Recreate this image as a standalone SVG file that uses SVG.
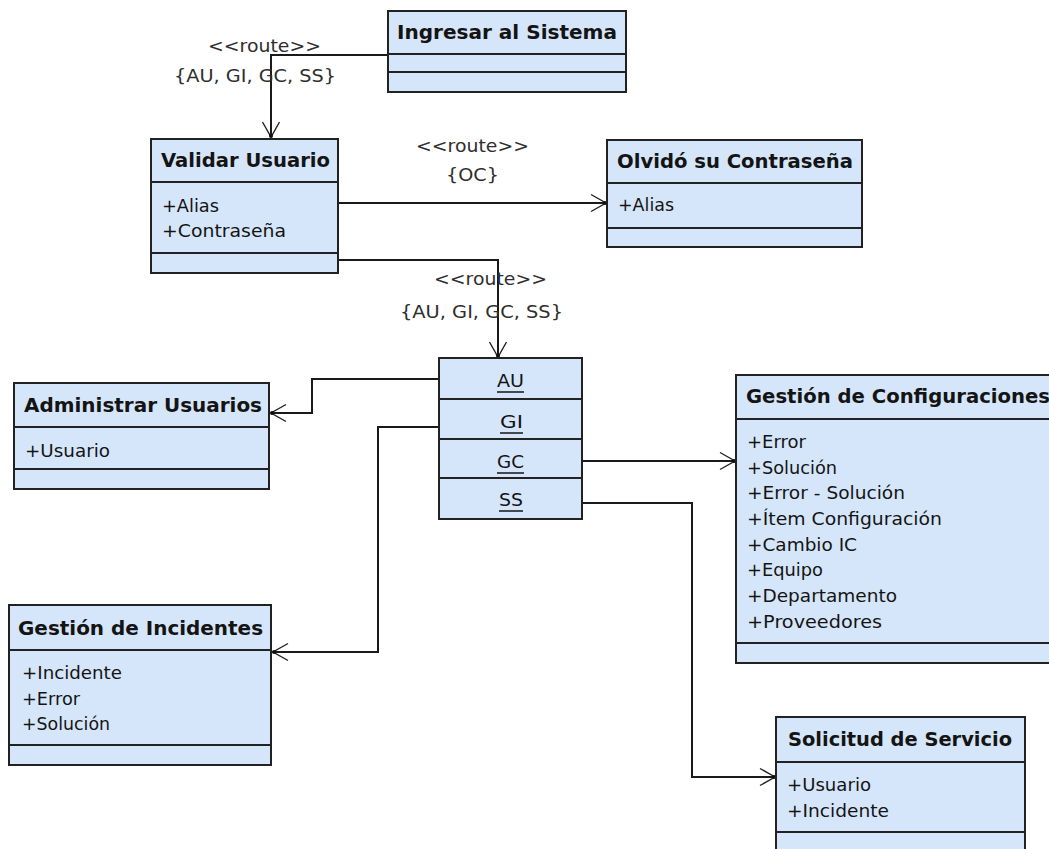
<svg xmlns="http://www.w3.org/2000/svg" width="1049" height="849" viewBox="0 0 1049 849">
  <style>
    .box { fill: #D6E6FA; stroke: #222; stroke-width: 2; }
    .sep { stroke: #222; stroke-width: 2; }
    .hdr { font-family: "DejaVu Sans", Verdana, sans-serif; font-weight: bold; font-size: 19px; fill: #141414; }
    .attr { font-family: "DejaVu Sans", Verdana, sans-serif; font-size: 18px; fill: #141414; }
    .lbl { font-family: "DejaVu Sans", Verdana, sans-serif; font-size: 18px; fill: #2e2e2e; }
    .ul { stroke: #141414; stroke-width: 1.5; }
    .conn { fill: none; stroke: #1a1a1a; stroke-width: 2; }
  </style>
  <defs>
    <marker id="openArrow" viewBox="-18 -10 21 20" refX="0" refY="0" markerWidth="21" markerHeight="20" orient="auto" markerUnits="userSpaceOnUse">
      <path d="M-15,-8.5 L0,0 L-15,8.5" fill="none" stroke="#222" stroke-width="1.4"/>
      <circle cx="-1" cy="0" r="2" fill="#111"/>
    </marker>
  </defs>

  <rect width="1049" height="849" fill="#ffffff"/>

  <!-- connectors -->
  <g id="connectors">
    <polyline class="conn" points="388,55 271,55 271,137" marker-end="url(#openArrow)"/>
    <polyline class="conn" points="338,203 606,203" marker-end="url(#openArrow)"/>
    <polyline class="conn" points="338,260 498,260 498,357" marker-end="url(#openArrow)"/>
    <polyline class="conn" points="439,379 312,379 312,413 271,413" marker-end="url(#openArrow)"/>
    <polyline class="conn" points="439,427 378,427 378,652 273,652" marker-end="url(#openArrow)"/>
    <polyline class="conn" points="582,461 735,461" marker-end="url(#openArrow)"/>
    <polyline class="conn" points="582,503 692,503 692,777 775,777" marker-end="url(#openArrow)"/>

    <text class="lbl" x="208" y="52" textLength="113" lengthAdjust="spacingAndGlyphs">&lt;&lt;route&gt;&gt;</text>
    <text class="lbl" x="174" y="82" textLength="162" lengthAdjust="spacingAndGlyphs">{AU, GI, GC, SS}</text>
    <text class="lbl" x="416" y="152" textLength="113" lengthAdjust="spacingAndGlyphs">&lt;&lt;route&gt;&gt;</text>
    <text class="lbl" x="446" y="181" textLength="53" lengthAdjust="spacingAndGlyphs">{OC}</text>
    <text class="lbl" x="434" y="285" textLength="113" lengthAdjust="spacingAndGlyphs">&lt;&lt;route&gt;&gt;</text>
    <text class="lbl" x="400" y="318" textLength="163" lengthAdjust="spacingAndGlyphs">{AU, GI, GC, SS}</text>
  </g>

  <!-- Ingresar al Sistema -->
  <g id="ingresar">
    <rect class="box" x="388" y="11" width="238" height="81"/>
    <line class="sep" x1="388" y1="54" x2="626" y2="54"/>
    <line class="sep" x1="388" y1="72" x2="626" y2="72"/>
    <text class="hdr" x="397" y="39" textLength="220" lengthAdjust="spacingAndGlyphs">Ingresar al Sistema</text>
  </g>

  <!-- Validar Usuario -->
  <g id="validar">
    <rect class="box" x="151" y="139" width="187" height="134"/>
    <line class="sep" x1="151" y1="182" x2="338" y2="182"/>
    <line class="sep" x1="151" y1="253" x2="338" y2="253"/>
    <text class="hdr" x="161" y="167" textLength="169" lengthAdjust="spacingAndGlyphs">Validar Usuario</text>
    <text class="attr" x="162" y="212" textLength="57" lengthAdjust="spacingAndGlyphs">+Alias</text>
    <text class="attr" x="162" y="237" textLength="124" lengthAdjust="spacingAndGlyphs">+Contraseña</text>
  </g>

  <!-- Olvidó su Contraseña -->
  <g id="olvido">
    <rect class="box" x="607" y="140" width="255" height="107"/>
    <line class="sep" x1="607" y1="183" x2="862" y2="183"/>
    <line class="sep" x1="607" y1="228" x2="862" y2="228"/>
    <text class="hdr" x="617" y="168" textLength="236" lengthAdjust="spacingAndGlyphs">Olvidó su Contraseña</text>
    <text class="attr" x="618" y="211" textLength="56" lengthAdjust="spacingAndGlyphs">+Alias</text>
  </g>

  <!-- route target with the four options -->
  <g id="opciones">
    <rect class="box" x="439" y="358" width="143" height="161"/>
    <line class="sep" x1="439" y1="399" x2="582" y2="399"/>
    <line class="sep" x1="439" y1="439" x2="582" y2="439"/>
    <line class="sep" x1="439" y1="478" x2="582" y2="478"/>
    <text class="attr" x="497" y="387" textLength="27" lengthAdjust="spacingAndGlyphs">AU</text>
    <line class="ul" x1="497" y1="392" x2="524" y2="392"/>
    <text class="attr" x="500" y="428" textLength="23" lengthAdjust="spacingAndGlyphs">GI</text>
    <line class="ul" x1="500" y1="433" x2="523" y2="433"/>
    <text class="attr" x="497" y="468" textLength="27" lengthAdjust="spacingAndGlyphs">GC</text>
    <line class="ul" x1="497" y1="473" x2="524" y2="473"/>
    <text class="attr" x="499" y="506" textLength="24" lengthAdjust="spacingAndGlyphs">SS</text>
    <line class="ul" x1="499" y1="511" x2="523" y2="511"/>
  </g>

  <!-- Administrar Usuarios -->
  <g id="administrar">
    <rect class="box" x="14" y="383" width="255" height="106"/>
    <line class="sep" x1="14" y1="427" x2="269" y2="427"/>
    <line class="sep" x1="14" y1="469" x2="269" y2="469"/>
    <text class="hdr" x="24" y="412" textLength="238" lengthAdjust="spacingAndGlyphs">Administrar Usuarios</text>
    <text class="attr" x="25" y="457" textLength="85" lengthAdjust="spacingAndGlyphs">+Usuario</text>
  </g>

  <!-- Gestión de Configuraciones -->
  <g id="configuraciones">
    <rect class="box" x="736" y="375" width="330" height="288"/>
    <line class="sep" x1="736" y1="419" x2="1066" y2="419"/>
    <line class="sep" x1="736" y1="643" x2="1066" y2="643"/>
    <text class="hdr" x="746" y="403" textLength="304" lengthAdjust="spacingAndGlyphs">Gestión de Configuraciones</text>
    <text class="attr" x="747" y="448" textLength="59" lengthAdjust="spacingAndGlyphs">+Error</text>
    <text class="attr" x="747" y="474" textLength="90" lengthAdjust="spacingAndGlyphs">+Solución</text>
    <text class="attr" x="747" y="499" textLength="158" lengthAdjust="spacingAndGlyphs">+Error - Solución</text>
    <text class="attr" x="747" y="525" textLength="195" lengthAdjust="spacingAndGlyphs">+Ítem Configuración</text>
    <text class="attr" x="747" y="551" textLength="110" lengthAdjust="spacingAndGlyphs">+Cambio IC</text>
    <text class="attr" x="747" y="576" textLength="76" lengthAdjust="spacingAndGlyphs">+Equipo</text>
    <text class="attr" x="747" y="602" textLength="150" lengthAdjust="spacingAndGlyphs">+Departamento</text>
    <text class="attr" x="747" y="628" textLength="135" lengthAdjust="spacingAndGlyphs">+Proveedores</text>
  </g>

  <!-- Gestión de Incidentes -->
  <g id="incidentes">
    <rect class="box" x="9" y="605" width="262" height="160"/>
    <line class="sep" x1="9" y1="650" x2="271" y2="650"/>
    <line class="sep" x1="9" y1="745" x2="271" y2="745"/>
    <text class="hdr" x="18" y="635" textLength="245" lengthAdjust="spacingAndGlyphs">Gestión de Incidentes</text>
    <text class="attr" x="22" y="679" textLength="100" lengthAdjust="spacingAndGlyphs">+Incidente</text>
    <text class="attr" x="22" y="705" textLength="58" lengthAdjust="spacingAndGlyphs">+Error</text>
    <text class="attr" x="22" y="730" textLength="88" lengthAdjust="spacingAndGlyphs">+Solución</text>
  </g>

  <!-- Solicitud de Servicio -->
  <g id="solicitud">
    <rect class="box" x="776" y="717" width="249" height="150"/>
    <line class="sep" x1="776" y1="762" x2="1025" y2="762"/>
    <line class="sep" x1="776" y1="832" x2="1025" y2="832"/>
    <text class="hdr" x="788" y="746" textLength="224" lengthAdjust="spacingAndGlyphs">Solicitud de Servicio</text>
    <text class="attr" x="787" y="791" textLength="84" lengthAdjust="spacingAndGlyphs">+Usuario</text>
    <text class="attr" x="787" y="817" textLength="102" lengthAdjust="spacingAndGlyphs">+Incidente</text>
  </g>
</svg>
